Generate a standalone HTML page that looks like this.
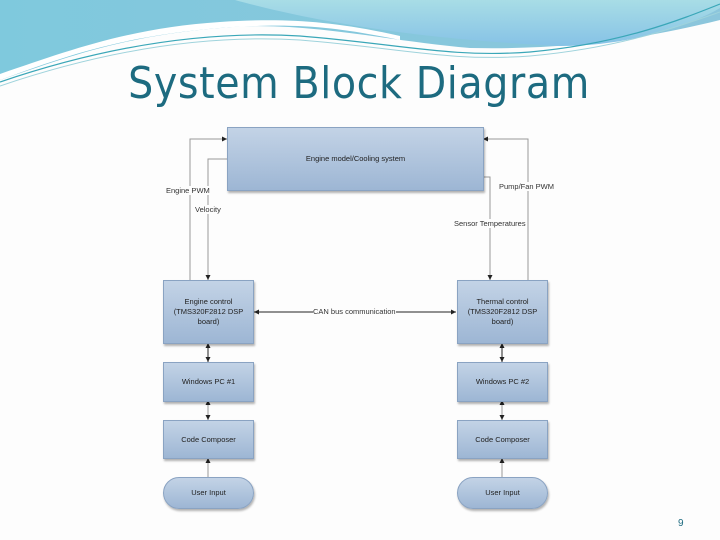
<!DOCTYPE html>
<html><head><meta charset="utf-8"><style>
body{margin:0;width:720px;height:540px;overflow:hidden;background:#fdfdfd;font-family:"Liberation Sans",sans-serif}
.b{position:absolute;background:linear-gradient(#c3d3e6,#9db6d4);border:1px solid #8aa3c2;box-shadow:1px 2px 2px rgba(0,0,0,.3);display:flex;align-items:center;justify-content:center;text-align:center;font-size:7.5px;color:#222;line-height:10px}
.t{position:absolute;font-size:7.5px;color:#333;white-space:nowrap}
</style></head><body>
<svg width="720" height="120" style="position:absolute;left:0;top:0">
<defs><linearGradient id="g1" x1="0" x2="1"><stop offset="0" stop-color="#7fc9dd"/><stop offset="1" stop-color="#8cc6dc"/></linearGradient>
<linearGradient id="g2" x1="0" y1="0" x2="0" y2="1"><stop offset="0" stop-color="#a8dde6"/><stop offset="1" stop-color="#86c2e6"/></linearGradient></defs>
<path d="M0,0 H720 V20 C640,40 560,50 470,48 C380,40 300,20 220,28 C120,36 60,60 0,80 Z" fill="url(#g1)"/>
<path d="M0,80 C60,58 120,36 220,28 C300,22 340,28 400,40 L400,36 C330,20 280,18 220,22 C130,28 70,50 0,74 Z" fill="#fff"/>
<path d="M235,0 C300,18 400,38 560,46 C640,46 700,20 720,8 V0 Z" fill="url(#g2)"/>
<path d="M0,82 C100,48 200,30 300,36 C400,44 450,58 530,52 C620,44 680,20 720,4" stroke="#3aa7b8" stroke-width="1.2" fill="none"/>
<path d="M0,86 C100,52 200,34 300,40 C400,48 450,62 530,56 C620,48 680,26 720,12" stroke="#9fd3dc" stroke-width="1" fill="none"/>
</svg>
<div style="position:absolute;left:0;width:718px;top:58px;text-align:center;font-size:44px;color:#1d6b80;font-family:'DejaVu Sans Condensed','Liberation Sans Narrow','Liberation Sans',sans-serif;letter-spacing:0.6px">System Block Diagram</div>

<svg width="720" height="540" style="position:absolute;left:0;top:0">
<defs><marker id="a" markerWidth="6" markerHeight="6" refX="5" refY="3" orient="auto"><path d="M0,0.5 L5,3 L0,5.5Z" fill="#222"/></marker>
<marker id="s" markerWidth="6" markerHeight="6" refX="1" refY="3" orient="auto"><path d="M6,0.5 L1,3 L6,5.5Z" fill="#222"/></marker></defs>
<g stroke="#999" stroke-width="1" fill="none">
<path d="M190,280 V139 H227" marker-end="url(#a)"/>
<path d="M227,159 H208 V280" marker-end="url(#a)"/>
<path d="M528,280 V139 H483" marker-end="url(#a)"/>
<path d="M483,177 H490 V280" marker-end="url(#a)"/>
<path d="M208,400 V420" marker-start="url(#s)" marker-end="url(#a)"/>
<path d="M502,400 V420" marker-start="url(#s)" marker-end="url(#a)"/>
<path d="M208,477 V458" marker-end="url(#a)"/>
<path d="M502,477 V458" marker-end="url(#a)"/>
</g>
<g stroke="#222" stroke-width="1" fill="none">
<path d="M254,312 H456" marker-start="url(#s)" marker-end="url(#a)"/>
<path d="M208,343 V362" marker-start="url(#s)" marker-end="url(#a)"/>
<path d="M502,343 V362" marker-start="url(#s)" marker-end="url(#a)"/>
</g>
</svg>
<div class="b" style="left:227px;top:127px;width:255px;height:62px">Engine model/Cooling system</div>
<div class="b" style="left:163px;top:280px;width:89px;height:62px">Engine control<br>(TMS320F2812 DSP<br>board)</div>
<div class="b" style="left:457px;top:280px;width:89px;height:62px">Thermal control<br>(TMS320F2812 DSP<br>board)</div>
<div class="b" style="left:163px;top:362px;width:89px;height:38px">Windows PC #1</div>
<div class="b" style="left:457px;top:362px;width:89px;height:38px">Windows PC #2</div>
<div class="b" style="left:163px;top:420px;width:89px;height:37px">Code Composer</div>
<div class="b" style="left:457px;top:420px;width:89px;height:37px">Code Composer</div>
<div class="b" style="left:163px;top:477px;width:89px;height:30px;border-radius:16px">User Input</div>
<div class="b" style="left:457px;top:477px;width:89px;height:30px;border-radius:16px">User Input</div>
<div class="t" style="left:166px;top:186px;background:#fdfdfd">Engine PWM</div>
<div class="t" style="left:195px;top:205px;background:#fdfdfd">Velocity</div>
<div class="t" style="left:499px;top:182px;background:#fdfdfd">Pump/Fan PWM</div>
<div class="t" style="left:454px;top:219px;background:#fdfdfd">Sensor Temperatures</div>
<div class="t" style="left:313px;top:307px;background:#fdfdfd">CAN bus communication</div>
<div style="position:absolute;left:678px;top:518px;font-size:10px;color:#1d6b80">9</div>
</body></html>
